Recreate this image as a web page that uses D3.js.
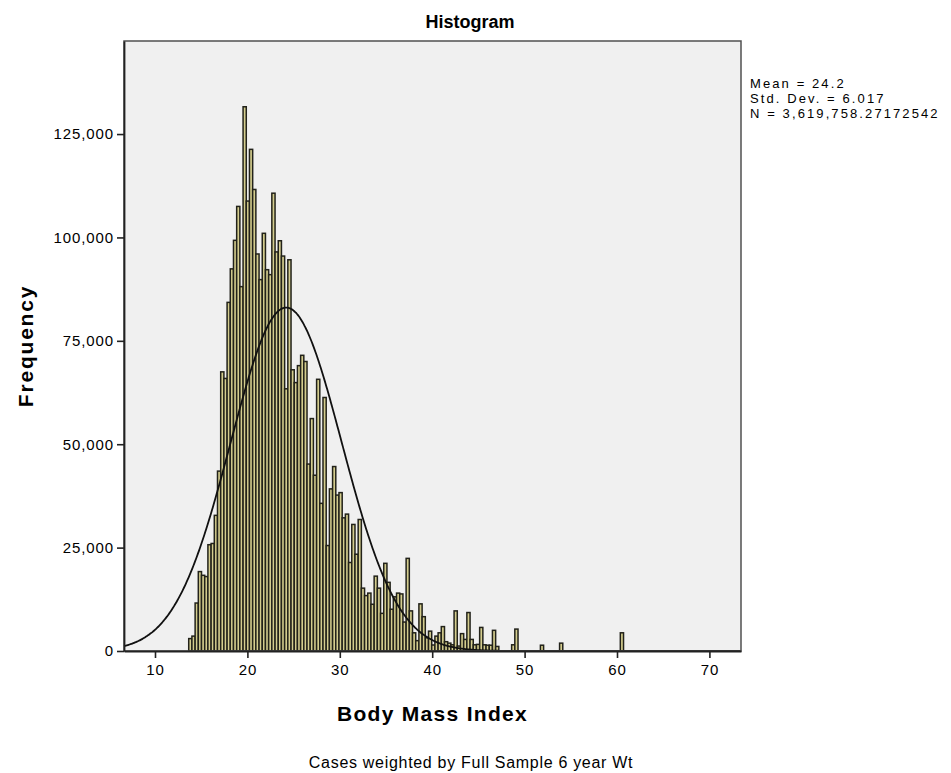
<!DOCTYPE html>
<html>
<head>
<meta charset="utf-8">
<script src="https://cdn.jsdelivr.net/npm/d3@7"></script>
<style>
  body { margin: 0; background: #fff; }
  svg text { font-family: "Liberation Sans", Arial, sans-serif; fill: #000; }
</style>
</head>
<body>
<svg id="hist-svg"></svg>
<script>
// histogram bins (Body Mass Index), weighted frequencies
const binStart = 13.65;
const binWidth = 0.346;
const frequencies = [
  3000, 3600, 11600, 19200, 18300, 18000, 25700, 26000, 32800, 43500,
  67500, 65900, 84300, 92400, 99300, 107500, 88100, 131600, 108800, 121300,
  111600, 96000, 89800, 101000, 92200, 91000, 110700, 96500, 99200, 95500,
  63400, 94600, 68000, 64900, 69000, 71500, 70000, 45200, 56200, 42500,
  65700, 35700, 61300, 25500, 39200, 44600, 37700, 38300, 32200, 33100,
  21400, 30600, 23400, 31800, 15200, 13400, 14000, 11300, 18100, 15200,
  9100, 21200, 16600, 10100, 13100, 14000, 13800, 7000, 22400, 9700,
  4400, 2500, 11400, 8300, 3200, 4800, 1450, 3600, 4400, 5900,
  2250, 1900, 1500, 9700, 1200, 4200, 2800, 9300, 2800, 1500,
  1600, 5700, 1500, 1400, 1400, 5000, 1100, 0, 0, 0,
  0, 1500, 5300, 0, 0, 0, 0, 0, 0, 0,
  1400, 0, 0, 0, 0, 0, 1900, 0, 0, 0,
  0, 0, 0, 0, 0, 0, 0, 0, 0, 0,
  0, 0, 0, 0, 0, 4400
];

const xTicks = [10, 20, 30, 40, 50, 60, 70];
const yTicks = [0, 25000, 50000, 75000, 100000, 125000];

const stats = { mean: 24.2, sd: 6.017, n: 3619758.27172542 };
const statLines = ["Mean = 24.2", "Std. Dev. = 6.017", "N = 3,619,758.27172542"];

const width = 951,
  height = 773;
const margin = { top: 41, bottom: 122, left: 124, right: 210 };

const svg = d3
  .select("#hist-svg")
  .attr("width", width)
  .attr("height", height);

const X = d3
  .scaleLinear()
  .domain([6.645, 73.42])
  .range([margin.left, width - margin.right]);

const Y = d3
  .scaleLinear()
  .domain([0, 147500])
  .range([height - margin.bottom, margin.top]);

// plot background
svg
  .append("rect")
  .attr("x", X.range()[0])
  .attr("y", Y.range()[1])
  .attr("width", X.range()[1] - X.range()[0])
  .attr("height", Y.range()[0] - Y.range()[1])
  .style("fill", "#f0f0f0");

const bins = frequencies
  .map((f, i) => ({ x0: binStart + i * binWidth, x1: binStart + (i + 1) * binWidth, f: f }))
  .filter((d) => d.f > 0);

svg
  .append("g")
  .attr("id", "bars")
  .selectAll(".bar")
  .data(bins)
  .enter()
  .append("rect")
  .attr("class", "bar")
  .attr("x", (d) => X(d.x0))
  .attr("y", (d) => Y(d.f))
  .attr("width", (d) => X(d.x1) - X(d.x0))
  .attr("height", (d) => Y(0) - Y(d.f))
  .style("fill", "#d4cd8e")
  .style("stroke", "#22221a")
  .style("stroke-width", 1.5);

// normal curve from the stated mean / sd / N
const curvePts = d3.range(X.domain()[0], X.domain()[1] + 0.01, 0.1).map((v) => {
  const z = (v - stats.mean) / stats.sd;
  return [v, (stats.n * binWidth) / (stats.sd * Math.sqrt(2 * Math.PI)) * Math.exp(-0.5 * z * z)];
});

svg
  .append("path")
  .datum(curvePts)
  .attr("d", d3.line().x((d) => X(d[0])).y((d) => Y(d[1])).curve(d3.curveBasis))
  .style("fill", "none")
  .style("stroke", "#111")
  .style("stroke-width", 1.8);

// frame
svg
  .append("rect")
  .attr("x", X.range()[0])
  .attr("y", Y.range()[1])
  .attr("width", X.range()[1] - X.range()[0])
  .attr("height", Y.range()[0] - Y.range()[1])
  .style("fill", "none")
  .style("stroke", "#505050")
  .style("stroke-width", 1.5);

const xAxis = d3.axisBottom(X).tickValues(xTicks).tickSizeInner(7).tickSizeOuter(0).tickPadding(6);
const yAxis = d3
  .axisLeft(Y)
  .tickValues(yTicks)
  .tickFormat(d3.format(","))
  .tickSizeInner(7)
  .tickSizeOuter(0)
  .tickPadding(3);

const gx = svg
  .append("g")
  .attr("transform", `translate(0,${Y(0)})`)
  .call(xAxis);
const gy = svg
  .append("g")
  .attr("transform", `translate(${X.range()[0]},0)`)
  .call(yAxis);

for (const g of [gx, gy]) {
  g.select(".domain").style("stroke", "#222").style("stroke-width", 1.8);
  g.selectAll(".tick line").style("stroke", "#222").style("stroke-width", 1.6);
  g.selectAll(".tick text")
    .style("fill", "#000")
    .style("font-family", "Liberation Sans, Arial, sans-serif")
    .style("font-size", "15px")
    .style("letter-spacing", "0.9px");
}

// titles
svg
  .append("text")
  .attr("x", 470)
  .attr("y", 28)
  .attr("text-anchor", "middle")
  .style("font-size", "18px")
  .style("font-weight", "bold")
  .text("Histogram");

svg
  .append("text")
  .attr("transform", `translate(33,${(Y.range()[0] + Y.range()[1]) / 2}) rotate(-90)`)
  .attr("text-anchor", "middle")
  .style("font-size", "21px")
  .style("font-weight", "bold")
  .style("letter-spacing", "1.8px")
  .text("Frequency");

svg
  .append("text")
  .attr("x", (X.range()[0] + X.range()[1]) / 2)
  .attr("y", 721)
  .attr("text-anchor", "middle")
  .style("font-size", "21px")
  .style("font-weight", "bold")
  .style("letter-spacing", "1.3px")
  .text("Body Mass Index");

svg
  .append("text")
  .attr("x", 471)
  .attr("y", 768)
  .attr("text-anchor", "middle")
  .style("font-size", "16px")
  .style("letter-spacing", "0.7px")
  .text("Cases weighted by Full Sample 6 year Wt");

svg
  .append("g")
  .selectAll("text")
  .data(statLines)
  .enter()
  .append("text")
  .attr("x", 750)
  .attr("y", (d, i) => 88 + i * 15)
  .style("font-size", "13px")
  .style("letter-spacing", "2.1px")
  .text((d) => d);
</script>
</body>
</html>
